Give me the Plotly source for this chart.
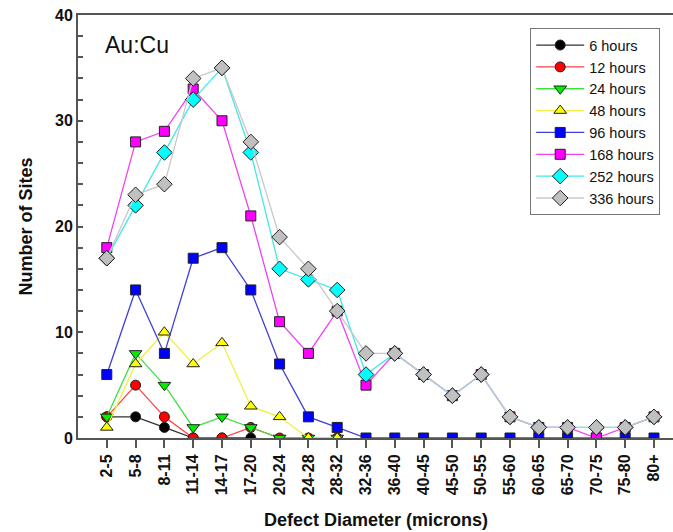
import plotly.graph_objects as go

categories = ["2-5", "5-8", "8-11", "11-14", "14-17", "17-20", "20-24", "24-28", "28-32",
              "32-36", "36-40", "40-45", "45-50", "50-55", "55-60", "60-65", "65-70",
              "70-75", "75-80", "80+"]

h6 = [2, 2, 1, 0, 0, 0]
h12 = [2, 5, 2, 0, 0, 1, 0, 0, 0]
h24 = [2, 8, 5, 1, 2, 1, 0, 0, 0]
h48 = [1, 7, 10, 7, 9, 3, 2, 0, 0]
h96 = [6, 14, 8, 17, 18, 14, 7, 2, 1, 0, 0, 0, 0, 0, 0, 0, 0, 0, 0, 0]
h168 = [18, 28, 29, 33, 30, 21, 11, 8, 12, 5, 8, 6, 4, 6, 2, 1, 1, 0, 1, 2]
h252 = [17, 22, 27, 32, 35, 27, 16, 15, 14, 6, 8, 6, 4, 6, 2, 1, 1, 1, 1, 2]
h336 = [17, 23, 24, 34, 35, 28, 19, 16, 12, 8, 8, 6, 4, 6, 2, 1, 1, 1, 1, 2]

series = [
    ("6 hours", h6, "#000000", "#333333", "circle", 10),
    ("12 hours", h12, "#ff0000", "#ff4040", "circle", 10),
    ("24 hours", h24, "#00ee00", "#40e040", "triangle-down", 11),
    ("48 hours", h48, "#ffff00", "#f0f040", "triangle-up", 11),
    ("96 hours", h96, "#0000ff", "#4040d8", "square", 10),
    ("168 hours", h168, "#ff00ff", "#f040f0", "square", 10),
    ("252 hours", h252, "#00ffff", "#40e8e8", "diamond", 12),
    ("336 hours", h336, "#c0c0c0", "#c8c8c8", "diamond", 12),
]

FONT = "Liberation Sans, Arial, sans-serif"

fig = go.Figure()
for name, vals, mcol, lcol, sym, sz in series:
    fig.add_trace(go.Scatter(
        x=categories[:len(vals)], y=vals, name=name, mode="lines+markers",
        line=dict(color=lcol, width=1.3),
        marker=dict(symbol=sym, size=sz, color=mcol,
                    line=dict(color="#222222", width=1)),
    ))

fig.update_layout(
    width=673, height=532,
    margin=dict(l=78, r=0, t=15, b=94),
    paper_bgcolor="white", plot_bgcolor="white",
    font=dict(family=FONT, color="#111111"),
    showlegend=True,
    legend=dict(
        x=0.76, y=0.969, xanchor="left", yanchor="top",
        bgcolor="white", bordercolor="#777777", borderwidth=1,
        font=dict(family=FONT, size=14.5, color="#111111"),
        itemwidth=48, tracegroupgap=0,
    ),
    xaxis=dict(
        type="category", categoryorder="array", categoryarray=categories,
        range=[-1, 19.66],
        showline=True, linecolor="#555555", linewidth=2, mirror=True,
        ticks="outside", ticklen=8, tickcolor="#555555", tickwidth=1.5,
        tickangle=-90, showgrid=False, zeroline=False,
        tickfont=dict(family=FONT, size=16, color="#111111", weight="bold"),
    ),
    yaxis=dict(
        range=[0, 40], dtick=10, tick0=0,
        showline=True, linecolor="#555555", linewidth=2, mirror=False,
        ticks="inside", ticklen=5, tickcolor="#555555", tickwidth=1.5,
        minor=dict(dtick=2, ticks="inside", ticklen=5, tickcolor="#555555", tickwidth=1.5),
        showgrid=False, zeroline=False,
        tickfont=dict(family=FONT, size=16, color="#111111", weight="bold"),
    ),
    annotations=[
        dict(text="Au:Cu", x=0.042, y=0.93, xref="paper", yref="paper",
             xanchor="left", yanchor="middle", showarrow=False,
             font=dict(family=FONT, size=23, color="#111111")),
        dict(text="<b>Defect Diameter (microns)</b>", x=0.5, y=-0.193, xref="paper", yref="paper",
             xanchor="center", yanchor="middle", showarrow=False,
             font=dict(family=FONT, size=18, color="#111111")),
        dict(text="<b>Number of Sites</b>", x=-0.089, y=0.5, xref="paper", yref="paper",
             xanchor="center", yanchor="middle", showarrow=False, textangle=-90,
             font=dict(family=FONT, size=18, color="#111111")),
    ],
)

fig.write_html("out.html", config={"displayModeBar": False},
               post_script="document.body.style.margin='0';")
